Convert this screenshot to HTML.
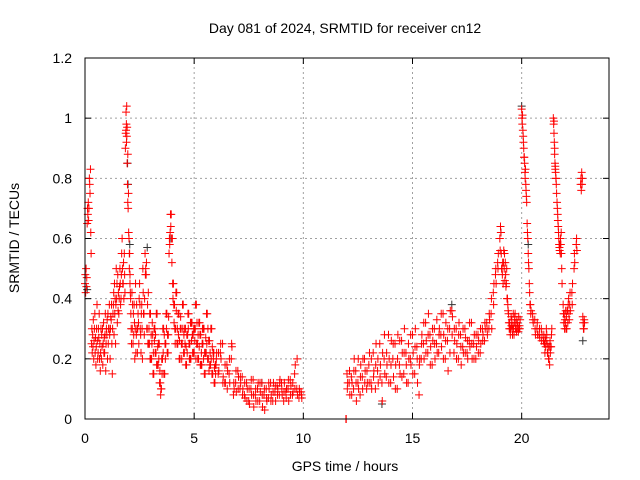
<!DOCTYPE html>
<html><head><meta charset="utf-8"><style>
body{margin:0;background:#fff;}
svg{display:block;font-family:"Liberation Sans",sans-serif;}
</style></head><body>
<svg id="chart" width="640" height="480" viewBox="0 0 640 480">
<rect width="640" height="480" fill="#fff"/>
<g id="grid"></g>
<g id="axes"></g>
<g id="marksBlack"></g>
<g id="marks"></g>
<rect x="85" y="58" width="524" height="361" fill="none" stroke="#000" stroke-width="1"/>
<text x="345" y="33" text-anchor="middle" font-size="14">Day 081 of 2024, SRMTID for receiver cn12</text>
<text x="345" y="471" text-anchor="middle" font-size="14">GPS time / hours</text>
<text transform="translate(19,238) rotate(-90)" text-anchor="middle" font-size="14">SRMTID / TECUs</text>
</svg>
<script>
const xTicks=[0,5,10,15,20];
const yTicks=[0,0.2,0.4,0.6,0.8,1,1.2];
const yTickLabels=["0","0.2","0.4","0.6","0.8","1","1.2"];
// each row: time in hours, then SRMTID values observed at that time
const redRows=[
[0.0,0.45,0.48,0.42],[0.05,0.5,0.44,0.47],[0.1,0.65,0.7,0.68],[0.15,0.72,0.66,0.7],[0.2,0.8,0.78,0.75],[0.25,0.83,0.62,0.55],
[0.3,0.25,0.3,0.22],[0.35,0.28,0.24,0.33],[0.4,0.2,0.26,0.3],[0.45,0.35,0.22,0.27],[0.5,0.18,0.24,0.3],[0.55,0.38,0.26,0.2],
[0.6,0.22,0.3,0.27],[0.65,0.35,0.2,0.25],[0.7,0.16,0.22,0.3],[0.75,0.2,0.28,0.24],[0.8,0.3,0.18,0.25],[0.85,0.32,0.22,0.27],
[0.9,0.22,0.28,0.35],[0.95,0.16,0.25,0.3],[1.0,0.28,0.33,0.2],[1.05,0.35,0.25,0.3],[1.1,0.3,0.38,0.28],[1.15,0.2,0.3,0.34],
[1.2,0.33,0.38,0.25],[1.25,0.15,0.3,0.35],[1.3,0.38,0.42,0.28],[1.35,0.45,0.35,0.4],[1.4,0.25,0.38,0.5],[1.45,0.4,0.45,0.32],
[1.5,0.48,0.36,0.42],[1.55,0.35,0.4,0.44],[1.6,0.5,0.45,0.38],[1.65,0.4,0.48,0.55],[1.7,0.6,0.5,0.45],[1.75,0.45,0.52,0.4],
[1.8,0.55,0.48,0.42],[1.85,0.9,0.95,0.96],[1.88,1.02,0.98,1.04],[1.9,0.92,0.94,0.97],[1.93,0.85,0.78,0.88],[1.96,0.72,0.7,0.75],
[2.0,0.62,0.6,0.55],[2.03,0.5,0.55,0.45],[2.06,0.48,0.42,0.4],[2.1,0.35,0.3,0.25],[2.15,0.42,0.3,0.38],[2.2,0.25,0.35,0.28],
[2.25,0.38,0.32,0.2],[2.3,0.3,0.45,0.22],[2.35,0.28,0.38,0.3],[2.4,0.22,0.3,0.35],[2.45,0.32,0.25,0.4],[2.5,0.45,0.38,0.3],
[2.55,0.28,0.22,0.35],[2.6,0.38,0.3,0.2],[2.65,0.5,0.42,0.35],[2.7,0.35,0.28,0.4],[2.75,0.55,0.48,0.5],[2.8,0.48,0.52,0.3],
[2.85,0.3,0.38,0.25],[2.9,0.42,0.25,0.3],[2.95,0.25,0.35,0.2],[3.0,0.35,0.2,0.28],[3.05,0.2,0.25,0.32],[3.1,0.28,0.15,0.22],
[3.15,0.15,0.3,0.26],[3.2,0.3,0.22,0.28],[3.25,0.22,0.35,0.18],[3.3,0.35,0.18,0.24],[3.35,0.18,0.25,0.2],[3.4,0.25,0.12,0.16],
[3.45,0.12,0.08,0.1],[3.5,0.1,0.2,0.15],[3.55,0.2,0.3,0.22],[3.6,0.3,0.15,0.28],[3.65,0.15,0.25,0.2],[3.7,0.25,0.35,0.3],
[3.75,0.35,0.22,0.28],[3.8,0.22,0.28,0.34],[3.85,0.55,0.6,0.58],[3.9,0.62,0.68,0.64],[3.95,0.68,0.6,0.52],[4.0,0.6,0.45,0.4],
[4.05,0.45,0.38,0.32],[4.1,0.38,0.3,0.25],[4.15,0.3,0.42,0.36],[4.2,0.42,0.25,0.3],[4.25,0.25,0.35,0.28],[4.3,0.35,0.2,0.26],
[4.35,0.2,0.3,0.34],[4.4,0.3,0.25,0.2],[4.45,0.25,0.38,0.3],[4.5,0.38,0.22,0.28],[4.55,0.22,0.3,0.25],[4.6,0.3,0.18,0.24],
[4.65,0.18,0.28,0.22],[4.7,0.28,0.35,0.3],[4.75,0.35,0.25,0.2],[4.8,0.25,0.2,0.32],[4.85,0.2,0.32,0.26],[4.9,0.32,0.28,0.22],
[4.95,0.28,0.22,0.3],[5.0,0.22,0.3,0.26],[5.05,0.3,0.38,0.2],[5.1,0.38,0.25,0.32],[5.15,0.25,0.2,0.28],[5.2,0.2,0.32,0.24],
[5.25,0.32,0.28,0.18],[5.3,0.28,0.18,0.22],[5.35,0.18,0.25,0.3],[5.4,0.25,0.3,0.2],[5.45,0.3,0.15,0.22],[5.5,0.15,0.22,0.27],
[5.55,0.22,0.35,0.25],[5.6,0.35,0.2,0.3],[5.65,0.2,0.26,0.16],[5.7,0.26,0.18,0.22],[5.75,0.18,0.3,0.2],[5.8,0.3,0.15,0.24],
[5.85,0.15,0.22,0.2],[5.9,0.22,0.12,0.17],[5.95,0.12,0.18,0.15],[6.0,0.18,0.2,0.22],[6.1,0.15,0.22,0.16],[6.2,0.22,0.25,0.2],
[6.3,0.25,0.12,0.14],[6.4,0.12,0.18,0.12],[6.5,0.18,0.1,0.16],[6.6,0.15,0.2,0.12],[6.7,0.2,0.25,0.24],[6.8,0.08,0.12,0.1],
[6.9,0.12,0.16,0.09],[7.0,0.16,0.1,0.14],[7.1,0.1,0.14,0.12],[7.2,0.14,0.08,0.1],[7.3,0.08,0.12,0.07],[7.4,0.12,0.06,0.1],
[7.5,0.06,0.1,0.05],[7.6,0.1,0.13,0.08],[7.7,0.13,0.08,0.04],[7.8,0.08,0.1,0.06],[7.9,0.1,0.06,0.12],[8.0,0.06,0.12,0.09],
[8.1,0.12,0.08,0.04],[8.2,0.08,0.1,0.03],[8.3,0.1,0.07,0.06],[8.4,0.07,0.12,0.1],[8.5,0.12,0.06,0.08],[8.6,0.06,0.09,0.12],
[8.7,0.09,0.11,0.06],[8.8,0.11,0.08,0.1],[8.9,0.08,0.12,0.13],[9.0,0.12,0.1,0.08],[9.1,0.06,0.09,0.12],[9.2,0.09,0.07,0.1],
[9.3,0.1,0.13,0.06],[9.4,0.13,0.08,0.11],[9.5,0.08,0.12,0.09],[9.6,0.15,0.1,0.18],[9.7,0.1,0.2,0.08],[9.8,0.07,0.1,0.09],
[9.9,0.09,0.08,0.07],[11.95,0.0,0.0],
[12.0,0.15,0.1,0.12],[12.1,0.12,0.16,0.08],[12.2,0.14,0.08,0.12],[12.3,0.1,0.16,0.2],[12.4,0.16,0.12,0.06],[12.5,0.12,0.2,0.1],
[12.6,0.08,0.14,0.18],[12.7,0.14,0.1,0.2],[12.8,0.2,0.12,0.16],[12.9,0.1,0.16,0.12],[13.0,0.18,0.12,0.22],[13.1,0.12,0.2,0.1],
[13.2,0.22,0.14,0.16],[13.3,0.1,0.18,0.25],[13.4,0.16,0.2,0.12],[13.5,0.25,0.14,0.18],[13.6,0.12,0.06,0.22],[13.7,0.2,0.28,0.15],
[13.8,0.14,0.22,0.18],[13.9,0.28,0.12,0.2],[14.0,0.12,0.18,0.26],[14.1,0.2,0.25,0.14],[14.2,0.25,0.1,0.18],[14.3,0.1,0.2,0.28],
[14.4,0.18,0.26,0.15],[14.5,0.26,0.14,0.22],[14.6,0.15,0.22,0.3],[14.7,0.22,0.18,0.12],[14.8,0.12,0.25,0.2],[14.9,0.2,0.28,0.18],
[15.0,0.28,0.15,0.22],[15.1,0.15,0.24,0.3],[15.2,0.24,0.2,0.12],[15.3,0.08,0.18,0.2],[15.4,0.2,0.25,0.28],[15.5,0.25,0.32,0.2],
[15.6,0.32,0.22,0.26],[15.7,0.22,0.28,0.35],[15.8,0.28,0.18,0.24],[15.9,0.18,0.3,0.26],[16.0,0.3,0.25,0.2],[16.1,0.25,0.33,0.22],
[16.2,0.22,0.28,0.3],[16.3,0.28,0.35,0.24],[16.4,0.35,0.2,0.28],[16.5,0.2,0.26,0.32],[16.6,0.26,0.3,0.16],[16.7,0.3,0.22,0.36],
[16.8,0.36,0.28,0.34],[16.9,0.22,0.3,0.26],[17.0,0.3,0.2,0.25],[17.1,0.2,0.28,0.32],[17.2,0.28,0.24,0.18],[17.3,0.24,0.3,0.22],
[17.4,0.3,0.22,0.27],[17.5,0.22,0.26,0.2],[17.6,0.26,0.32,0.24],[17.7,0.32,0.25,0.2],[17.8,0.25,0.2,0.28],[17.9,0.2,0.28,0.24],
[18.0,0.28,0.22,0.26],[18.1,0.22,0.3,0.25],[18.2,0.3,0.26,0.28],[18.3,0.26,0.32,0.3],[18.4,0.32,0.3,0.28],[18.5,0.3,0.35,0.33],
[18.6,0.35,0.4,0.3],[18.7,0.42,0.38,0.45],[18.8,0.48,0.5,0.45],[18.9,0.52,0.5,0.55],[19.0,0.6,0.56,0.64],[19.05,0.62,0.55,0.5],
[19.1,0.5,0.48,0.52],[19.15,0.45,0.52,0.56],[19.2,0.5,0.55,0.46],[19.25,0.52,0.48,0.44],[19.3,0.45,0.5,0.4],[19.35,0.4,0.38,0.36],
[19.4,0.35,0.32,0.3],[19.45,0.32,0.3,0.28],[19.5,0.3,0.34,0.31],[19.55,0.33,0.3,0.28],[19.6,0.31,0.35,0.3],[19.65,0.28,0.32,0.34],
[19.7,0.35,0.3,0.32],[19.75,0.3,0.29,0.33],[19.8,0.32,0.3,0.31],[19.85,0.29,0.34,0.3],[19.9,0.31,0.3,0.33],
[20.0,1.03,1.0,0.98],[20.04,1.01,0.96,0.94],[20.08,0.92,0.9,0.87],[20.12,0.87,0.85,0.82],
[20.16,0.8,0.83,0.78],[20.2,0.76,0.74,0.72],[20.25,0.65,0.62,0.6],[20.3,0.55,0.52,0.5],[20.35,0.45,0.42,0.38],[20.4,0.38,0.35,0.36],
[20.5,0.35,0.33,0.32],[20.6,0.33,0.3,0.28],[20.7,0.3,0.32,0.28],[20.8,0.28,0.3,0.27],[20.9,0.3,0.26,0.28],[21.0,0.26,0.28,0.25],
[21.05,0.25,0.22,0.27],[21.1,0.24,0.26,0.3],[21.15,0.28,0.25,0.22],[21.2,0.22,0.24,0.2],[21.25,0.2,0.24,0.18],[21.3,0.26,0.22,0.24],
[21.35,0.24,0.28,0.3],[21.45,1.0,0.98,0.99],[21.48,0.95,0.92,0.9],[21.51,0.88,0.85,0.83],[21.54,0.84,0.82,0.8],[21.57,0.8,0.78,0.75],
[21.62,0.72,0.7,0.68],[21.66,0.66,0.64,0.62],[21.7,0.6,0.58,0.57],[21.74,0.56,0.58,0.55],[21.78,0.6,0.58,0.62],[21.82,0.55,0.5,0.45],
[21.9,0.38,0.35,0.32],[21.95,0.35,0.3,0.33],[22.0,0.32,0.36,0.3],[22.05,0.34,0.3,0.36],[22.1,0.36,0.32,0.38],[22.15,0.4,0.35,0.33],
[22.2,0.38,0.42,0.36],[22.3,0.42,0.38,0.45],[22.4,0.5,0.55,0.52],[22.5,0.58,0.6,0.56],[22.7,0.78,0.8,0.76],[22.75,0.82,0.78,0.8],
[22.8,0.34,0.32,0.3],[22.85,0.3,0.33,0.32]
];
const blackTimes=[0.1,1.95,1.97,2.05,2.85,3.9,8.1,13.6,16.8,19.05,20.0,20.3,22.8];
const blackVals=[0.43,0.85,0.78,0.58,0.57,0.6,0.12,0.05,0.38,0.62,1.04,0.58,0.26];

const NS='http://www.w3.org/2000/svg';
const X0=85,X1=609,Y0=419,Y1=58;
const TMAX=24;
function xs(t){return X0+(t/TMAX)*(X1-X0);}
function ys(v){return Y0-(v/1.2)*(Y0-Y1);}
function mk(tag,attrs,parent){const e=document.createElementNS(NS,tag);for(const k in attrs)e.setAttribute(k,attrs[k]);parent.appendChild(e);return e;}
const grid=document.getElementById('grid'),axes=document.getElementById('axes');
xTicks.forEach((t,i)=>{
  const x=xs(t);
  if(t>0){const g=mk('line',{x1:x,x2:x,y1:Y0,y2:Y1,stroke:'#a0a0a0','stroke-dasharray':'2,3'},grid);
  
  }
  mk('line',{x1:x,x2:x,y1:Y0,y2:Y0-6,stroke:'#000'},axes);
  mk('line',{x1:x,x2:x,y1:Y1,y2:Y1+6,stroke:'#000'},axes);
  const l=mk('text',{x:x,y:443,'text-anchor':'middle','font-size':'14'},axes);
  l.textContent=String(t);
  
  
});
yTicks.forEach((v,i)=>{
  const y=ys(v);
  if(v>0&&v<1.2){const g=mk('line',{x1:X0,x2:X1,y1:y,y2:y,stroke:'#a0a0a0','stroke-dasharray':'2,3'},grid);
  
  }
  mk('line',{x1:X0,x2:X0+6,y1:y,y2:y,stroke:'#000'},axes);
  mk('line',{x1:X1,x2:X1-6,y1:y,y2:y,stroke:'#000'},axes);
  const l=mk('text',{x:72,y:y+5,'text-anchor':'end','font-size':'14'},axes);
  l.textContent=yTickLabels[i];
  
  
});
function plus(parent,t,v,color){
  const x=xs(t),y=ys(v);
  const p=mk('path',{d:`M${x-4} ${y}H${x+4}M${x} ${y-4}V${y+4}`,stroke:color,'stroke-width':'1',fill:'none'},parent);
  
  
}
const mb=document.getElementById('marksBlack'),mr=document.getElementById('marks');
blackTimes.forEach((t,i)=>plus(mb,t,blackVals[i],'#333'));
redRows.forEach(row=>{for(let j=1;j<row.length;j++)plus(mr,row[0]+(j-1)*0.015,row[j],'#ff0000');});
</script>
</body></html>
